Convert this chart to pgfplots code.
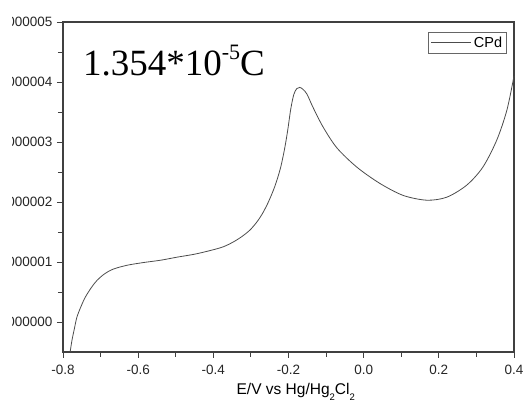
\documentclass[border=0pt]{standalone}
\usepackage{fontspec}
\setmainfont{Liberation Sans}
\newfontfamily\timesfont{Liberation Serif}
\usepackage{pgfplots}
\pgfplotsset{compat=1.18}
\begin{document}
\begin{tikzpicture}
\begin{axis}[
  at={(0pt,0pt)}, anchor=south west,
  scale only axis, width=451pt, height=330pt, clip=false,
  xmin=-0.8, xmax=0.4, ymin=-0.5, ymax=5,
  xtick={-0.8,-0.6,-0.4,-0.2,0,0.2,0.4},
  xticklabels={-0.8,-0.6,-0.4,-0.2,0.0,0.2,0.4},
  ytick={0,1,2,3,4,5},
  yticklabels={0.000000,0.000001,0.000002,0.000003,0.000004,0.000005},
  minor x tick num=1, minor y tick num=1,
  tick align=outside, xtick pos=bottom, ytick pos=left,
  major tick length=6pt, minor tick length=5pt,
  axis line style={black!75, line width=1.1pt},
  every tick/.style={black!75, line width=0.9pt},
  tick label style={font=\fontsize{13.5}{14}\selectfont, text=black!85},
  yticklabel style={xshift=-1pt},
  xticklabel style={yshift=-3.5pt},
  legend style={at={(0.984,0.97)}, anchor=north east, draw=black!60,
    font=\fontsize{14.5}{15}\selectfont, inner sep=2.5pt, row sep=0pt,
    legend cell align=left},
  legend image code/.code={\draw[#1] (0pt,0pt) -- (40pt,0pt);},
]
\addplot[black!70, line width=0.8pt, smooth, tension=0.5] coordinates {
(-0.781,-0.5) (-0.776,-0.3) (-0.770,-0.12) (-0.763,0.08) (-0.752,0.26)
(-0.741,0.41) (-0.725,0.57) (-0.71,0.69) (-0.69,0.80) (-0.667,0.88)
(-0.63,0.945) (-0.587,0.99) (-0.54,1.03) (-0.497,1.08) (-0.45,1.13)
(-0.409,1.19) (-0.375,1.25) (-0.348,1.33) (-0.325,1.42) (-0.303,1.53)
(-0.285,1.66) (-0.27,1.8) (-0.255,1.98) (-0.24,2.2) (-0.23,2.38)
(-0.22,2.6) (-0.21,2.9) (-0.202,3.2) (-0.194,3.55) (-0.186,3.79)
(-0.178,3.89) (-0.170,3.91) (-0.162,3.88) (-0.151,3.8) (-0.135,3.58)
(-0.108,3.25) (-0.071,2.9) (-0.018,2.58) (0.043,2.31) (0.105,2.11)
(0.168,2.03) (0.221,2.08) (0.274,2.28) (0.317,2.58) (0.354,3.03)
(0.381,3.53) (0.4,4.1)
};
\addlegendentry{CPd}
\node[anchor=base west, inner sep=0pt, font=\timesfont\fontsize{37}{37}\selectfont]
  at (rel axis cs:0.044,0.839) {1.354*10\raisebox{0.42em}{\fontsize{22}{22}\selectfont -5}C};
\node[anchor=base, inner sep=0pt, yshift=-43pt, font=\fontsize{15.5}{16}\selectfont]
  at (rel axis cs:0.516,0) {E/V vs Hg/Hg\raisebox{-0.35em}{\fontsize{9.5}{9.5}\selectfont 2}Cl\raisebox{-0.35em}{\fontsize{9.5}{9.5}\selectfont 2}};
\end{axis}
\fill[white] (-63pt,-51pt) rectangle (-51pt,352pt);
\pgfresetboundingbox
\useasboundingbox (-63pt,-51pt) rectangle (461pt,352pt);
\end{tikzpicture}
\end{document}
